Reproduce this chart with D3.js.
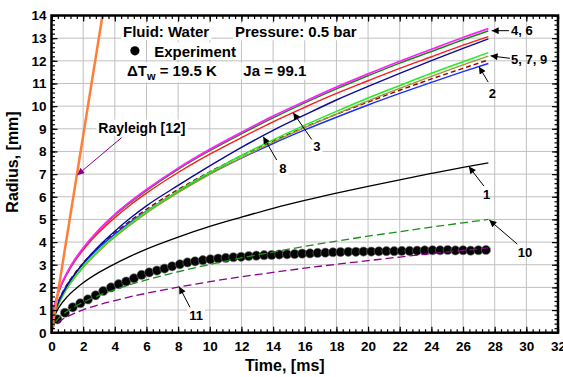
<!DOCTYPE html>
<html>
<head>
<meta charset="utf-8">
<script src="https://cdn.jsdelivr.net/npm/d3@7"></script>
<style>
  body { margin: 0; background: #fff; }
  text { font-family: Arial, "Liberation Sans", sans-serif; font-weight: bold; }
</style>
</head>
<body>
<div id="chart"></div>
<script>
// time grid of the model curves, ms
var timeMs = [0, 0.1, 0.25, 0.5, 1, 1.5, 2, 3, 4, 5, 6, 8, 10, 12, 14, 16, 18, 20, 22, 24, 26, 27.6];

// model radii, mm
var model1 = [0, 0.54, 0.83, 1.15, 1.59, 1.92, 2.20, 2.66, 3.04, 3.38, 3.69, 4.22, 4.69, 5.10, 5.49, 5.84, 6.16, 6.46, 6.75, 7.03, 7.30, 7.50];
var model2 = [0, 0.64, 1.03, 1.48, 2.12, 2.61, 3.03, 3.75, 4.35, 4.89, 5.37, 6.24, 7.01, 7.70, 8.35, 8.95, 9.51, 10.05, 10.56, 11.05, 11.52, 11.88];
var model3 = [0, 0.86, 1.33, 1.87, 2.61, 3.18, 3.65, 4.43, 5.08, 5.65, 6.16, 7.07, 7.88, 8.61, 9.31, 9.95, 10.56, 11.12, 11.67, 12.18, 12.69, 13.07];
var model4 = [0, 0.89, 1.37, 1.92, 2.68, 3.26, 3.74, 4.55, 5.22, 5.80, 6.32, 7.26, 8.09, 8.84, 9.56, 10.21, 10.84, 11.42, 11.98, 12.51, 13.03, 13.42];
var model6 = [0, 0.88, 1.36, 1.90, 2.66, 3.24, 3.72, 4.52, 5.18, 5.75, 6.27, 7.21, 8.03, 8.78, 9.48, 10.14, 10.76, 11.34, 11.90, 12.41, 12.93, 13.32];
var model5 = [0, 0.56, 0.93, 1.36, 1.99, 2.49, 2.92, 3.65, 4.27, 4.83, 5.34, 6.26, 7.07, 7.82, 8.51, 9.16, 9.77, 10.36, 10.91, 11.45, 11.96, 12.36];
var model7 = [0, 0.56, 0.92, 1.34, 1.97, 2.46, 2.88, 3.60, 4.22, 4.77, 5.28, 6.18, 6.99, 7.72, 8.41, 9.05, 9.65, 10.23, 10.78, 11.31, 11.82, 12.21];
var model9 = [0, 0.65, 1.04, 1.50, 2.15, 2.65, 3.08, 3.80, 4.41, 4.95, 5.45, 6.32, 7.10, 7.81, 8.46, 9.07, 9.64, 10.18, 10.70, 11.20, 11.67, 12.04];
var model8 = [0, 0.59, 0.98, 1.43, 2.09, 2.61, 3.06, 3.83, 4.48, 5.07, 5.60, 6.50, 7.36, 8.18, 8.93, 9.61, 10.27, 10.87, 11.45, 12.01, 12.55, 12.97];
var model10 = [0, 0.30, 0.48, 0.67, 0.95, 1.17, 1.35, 1.65, 1.90, 2.13, 2.33, 2.69, 3.01, 3.30, 3.56, 3.81, 4.04, 4.26, 4.46, 4.66, 4.85, 5.00];
var model11 = [0, 0.23, 0.36, 0.50, 0.71, 0.87, 1.01, 1.23, 1.42, 1.59, 1.74, 2.01, 2.25, 2.47, 2.66, 2.85, 3.02, 3.18, 3.34, 3.49, 3.63, 3.74];

// Rayleigh [12] straight line
var rayleighTime = [0, 3.22];
var rayleighRadius = [0, 14];

// experiment points
var expTime = [0.37, 0.85, 1.34, 1.82, 2.30, 2.79, 3.27, 3.76, 4.24, 4.72, 5.21, 5.69, 6.17, 6.66, 7.14, 7.62, 8.11, 8.59, 9.07, 9.56,
  10.04, 10.53, 11.01, 11.49, 11.98, 12.46, 12.94, 13.43, 13.91, 14.39, 14.88, 15.36, 15.84, 16.33, 16.81, 17.30, 17.78, 18.26, 18.75, 19.23,
  19.71, 20.20, 20.68, 21.16, 21.65, 22.13, 22.62, 23.10, 23.58, 24.07, 24.55, 25.03, 25.52, 26.00, 26.48, 26.97, 27.45];
var expRadius = [0.59, 0.88, 1.12, 1.30, 1.47, 1.65, 1.84, 2.00, 2.14, 2.26, 2.40, 2.55, 2.66, 2.74, 2.83, 2.93, 3.02, 3.10, 3.15, 3.20,
  3.24, 3.27, 3.30, 3.33, 3.35, 3.38, 3.40, 3.42, 3.43, 3.45, 3.46, 3.47, 3.49, 3.50, 3.52, 3.53, 3.55, 3.56, 3.57, 3.57,
  3.58, 3.58, 3.59, 3.60, 3.60, 3.61, 3.61, 3.62, 3.63, 3.64, 3.64, 3.65, 3.63, 3.64, 3.62, 3.64, 3.65];

var xTickValues = [0, 2, 4, 6, 8, 10, 12, 14, 16, 18, 20, 22, 24, 26, 28, 30, 32];
var yTickValues = [0, 1, 2, 3, 4, 5, 6, 7, 8, 9, 10, 11, 12, 13, 14];

var w = 563, h = 377;
var plotLeft = 51.5, plotRight = 558, plotTop = 15.5, plotBottom = 332.7;

var svg = d3.select("#chart").append("svg")
    .attr("width", w)
    .attr("height", h);

var x = d3.scaleLinear().domain([0, 32]).range([plotLeft, plotRight]);
var y = d3.scaleLinear().domain([0, 14]).range([plotBottom, plotTop]);

// arrow heads
var defs = svg.append("defs");
[["arrowBlack", "#000"], ["arrowPurple", "#8b008b"]].forEach(function(m) {
  defs.append("marker")
      .attr("id", m[0])
      .attr("viewBox", "0 0 10 10")
      .attr("refX", 10).attr("refY", 5)
      .attr("markerWidth", 9).attr("markerHeight", 7)
      .attr("markerUnits", "userSpaceOnUse")
      .attr("orient", "auto")
    .append("path")
      .attr("d", "M0,0 L10,5 L0,10 z")
      .attr("fill", m[1]);
});
defs.append("clipPath").attr("id", "plotClip")
  .append("rect")
    .attr("x", plotLeft).attr("y", plotTop)
    .attr("width", plotRight - plotLeft).attr("height", plotBottom - plotTop);

// grid
svg.append("g").selectAll("line").data(xTickValues).enter().append("line")
    .attr("x1", function(d) { return x(d); }).attr("x2", function(d) { return x(d); })
    .attr("y1", plotTop).attr("y2", plotBottom)
    .attr("stroke", "#c0c0c0").attr("stroke-width", 1);
svg.append("g").selectAll("line").data(yTickValues).enter().append("line")
    .attr("x1", plotLeft).attr("x2", plotRight)
    .attr("y1", function(d) { return y(d); }).attr("y2", function(d) { return y(d); })
    .attr("stroke", "#c0c0c0").attr("stroke-width", 1);

// text annotations with white boxes behind them
var notes = svg.append("g");
function note(str, t, r, size, anchor) {
  var g = notes.append("g");
  var txt = g.append("text")
      .attr("x", x(t)).attr("y", y(r))
      .attr("font-size", size)
      .attr("text-anchor", anchor || "start")
      .text(str);
  var b = txt.node().getBBox();
  g.insert("rect", "text")
      .attr("x", b.x - 2).attr("y", b.y)
      .attr("width", b.width + 4).attr("height", b.height)
      .attr("fill", "#fff");
  return txt;
}

note("Fluid: Water", 4.52, 13.04, 15);
note("Pressure: 0.5 bar", 11.59, 13.04, 15);
note("Experiment", 6.49, 12.19, 15);
var dt = note("", 4.77, 11.31, 15);
dt.append("tspan").text("\u0394T");
dt.append("tspan").attr("font-size", 11).attr("dy", 4).text("w");
dt.append("tspan").attr("dy", -4).text(" = 19.5 K");
(function() {
  var b = dt.node().getBBox();
  d3.select(dt.node().parentNode).select("rect")
      .attr("x", b.x - 2).attr("y", b.y).attr("width", b.width + 4).attr("height", b.height);
})();
note("Ja = 99.1", 12.12, 11.31, 15);
note("Rayleigh [12]", 2.96, 8.83, 14);
note("3", 16.77, 8.02, 13, "middle");
note("8", 14.62, 7.05, 13, "middle");
note("11", 9.13, 0.56, 13, "middle");

// experiment dots
svg.append("g").selectAll("circle").data(expTime).enter().append("circle")
    .attr("cx", function(d) { return x(d); })
    .attr("cy", function(d, i) { return y(expRadius[i]); })
    .attr("r", 4.6)
    .attr("fill", "#050505")
    .attr("stroke", "#777")
    .attr("stroke-width", 0.6);

// legend dot
svg.append("circle")
    .attr("cx", x(5.27)).attr("cy", y(12.44))
    .attr("r", 4.6).attr("fill", "#000");

// model curves
var curves = [
  { r: model9, color: "#990000", width: 1.4, dash: "5,3" },
  { r: model2, color: "#1a2eff", width: 1.4 },
  { r: model7, color: "#9a9a30", width: 1.4 },
  { r: model5, color: "#22ee22", width: 1.5 },
  { r: model8, color: "#0a0a99", width: 1.4 },
  { r: model3, color: "#ff1a1a", width: 1.4 },
  { r: model6, color: "#138a13", width: 1.4 },
  { r: model4, color: "#ff22ff", width: 1.8 },
  { r: model1, color: "#000", width: 1.3 },
  { r: model10, color: "#1b8f1b", width: 1.3, dash: "8,4" },
  { r: model11, color: "#8b008b", width: 1.3, dash: "8,4" }
];
var line = d3.line()
    .x(function(d) { return x(d[0]); })
    .y(function(d) { return y(d[1]); })
    .curve(d3.curveMonotoneX);
var plot = svg.append("g").attr("clip-path", "url(#plotClip)");
curves.forEach(function(c) {
  plot.append("path")
      .datum(timeMs.map(function(t, i) { return [t, c.r[i]]; }))
      .attr("d", line)
      .attr("fill", "none")
      .attr("stroke", c.color)
      .attr("stroke-width", c.width)
      .attr("stroke-dasharray", c.dash || null);
});
plot.append("path")
    .datum(rayleighTime.map(function(t, i) { return [t, rayleighRadius[i]]; }))
    .attr("d", d3.line().x(function(d) { return x(d[0]); }).y(function(d) { return y(d[1]); }))
    .attr("fill", "none")
    .attr("stroke", "#ff7f3a")
    .attr("stroke-width", 2.5);

// labels with arrows: text, text pos, arrow start, arrow tip
var arrows = [
  ["4, 6", [29.03, 13.12], [28.90, 13.33], [27.81, 13.33], "start"],
  ["5, 7, 9", [29.03, 11.86], [28.96, 12.11], [27.74, 12.22], "start"],
  ["2", [27.85, 10.36], [27.59, 11.06], [27.01, 11.74], "middle"],
  ["", null, [16.44, 8.53], [15.27, 9.71]],
  ["", null, [14.23, 7.62], [13.38, 8.65]],
  ["1", [27.49, 5.90], [27.32, 6.47], [26.37, 7.33], "middle"],
  ["10", [29.91, 3.34], [29.43, 3.91], [27.66, 4.97], "middle"],
  ["", null, [8.75, 1.12], [8.07, 2.03]]
];
arrows.forEach(function(a) {
  svg.append("line")
      .attr("x1", x(a[2][0])).attr("y1", y(a[2][1]))
      .attr("x2", x(a[3][0])).attr("y2", y(a[3][1]))
      .attr("stroke", "#000").attr("stroke-width", 1)
      .attr("marker-end", "url(#arrowBlack)");
  if (a[1]) {
    svg.append("text")
        .attr("x", x(a[1][0])).attr("y", y(a[1][1]))
        .attr("font-size", 13)
        .attr("text-anchor", a[4])
        .text(a[0]);
  }
});
svg.append("line")
    .attr("x1", x(4.43)).attr("y1", y(8.61))
    .attr("x2", x(1.63)).attr("y2", y(6.96))
    .attr("stroke", "#8b008b").attr("stroke-width", 1)
    .attr("marker-end", "url(#arrowPurple)");

// frame
svg.append("rect")
    .attr("x", plotLeft).attr("y", plotTop)
    .attr("width", plotRight - plotLeft).attr("height", plotBottom - plotTop)
    .attr("fill", "none").attr("stroke", "#000").attr("stroke-width", 2.5);

// ticks on all four sides, pointing inwards
var xMinor = d3.range(0, 32.001, 0.4);
var yMinor = d3.range(0, 14.001, 0.2);
function ticks(axis, pos, values, size, labels) {
  var g = svg.append("g").attr("transform", pos)
      .call(axis.tickValues(values).tickSizeInner(-size).tickSizeOuter(0)
        .tickPadding(labels ? 9 : 0)
        .tickFormat(labels ? d3.format("d") : ""));
  g.select(".domain").remove();
  g.selectAll(".tick line").attr("stroke", "#000").attr("stroke-width", 1.2);
  g.selectAll("text").attr("font-size", 13.5).attr("fill", "#000")
      .attr("font-family", "Arial, 'Liberation Sans', sans-serif");
  return g;
}
ticks(d3.axisBottom(x), "translate(0," + plotBottom + ")", xMinor, 3.5, false);
ticks(d3.axisBottom(x), "translate(0," + plotBottom + ")", xTickValues, 6, true);
ticks(d3.axisTop(x), "translate(0," + plotTop + ")", xMinor, 3.5, false);
ticks(d3.axisTop(x), "translate(0," + plotTop + ")", xTickValues, 6, false);
ticks(d3.axisLeft(y), "translate(" + plotLeft + ",0)", yMinor, 3.5, false);
ticks(d3.axisLeft(y), "translate(" + plotLeft + ",0)", yTickValues, 6, true)
    .selectAll("text").attr("dx", 4);
ticks(d3.axisRight(y), "translate(" + plotRight + ",0)", yMinor, 3.5, false);
ticks(d3.axisRight(y), "translate(" + plotRight + ",0)", yTickValues, 6, false);

// axis titles
svg.append("text")
    .attr("x", (plotLeft + plotRight) / 2 - 20).attr("y", 371)
    .attr("text-anchor", "middle")
    .attr("font-size", 16)
    .text("Time, [ms]");
svg.append("text")
    .attr("transform", "translate(18,162) rotate(-90)")
    .attr("text-anchor", "middle")
    .attr("font-size", 16)
    .text("Radius, [mm]");
</script>
</body>
</html>
